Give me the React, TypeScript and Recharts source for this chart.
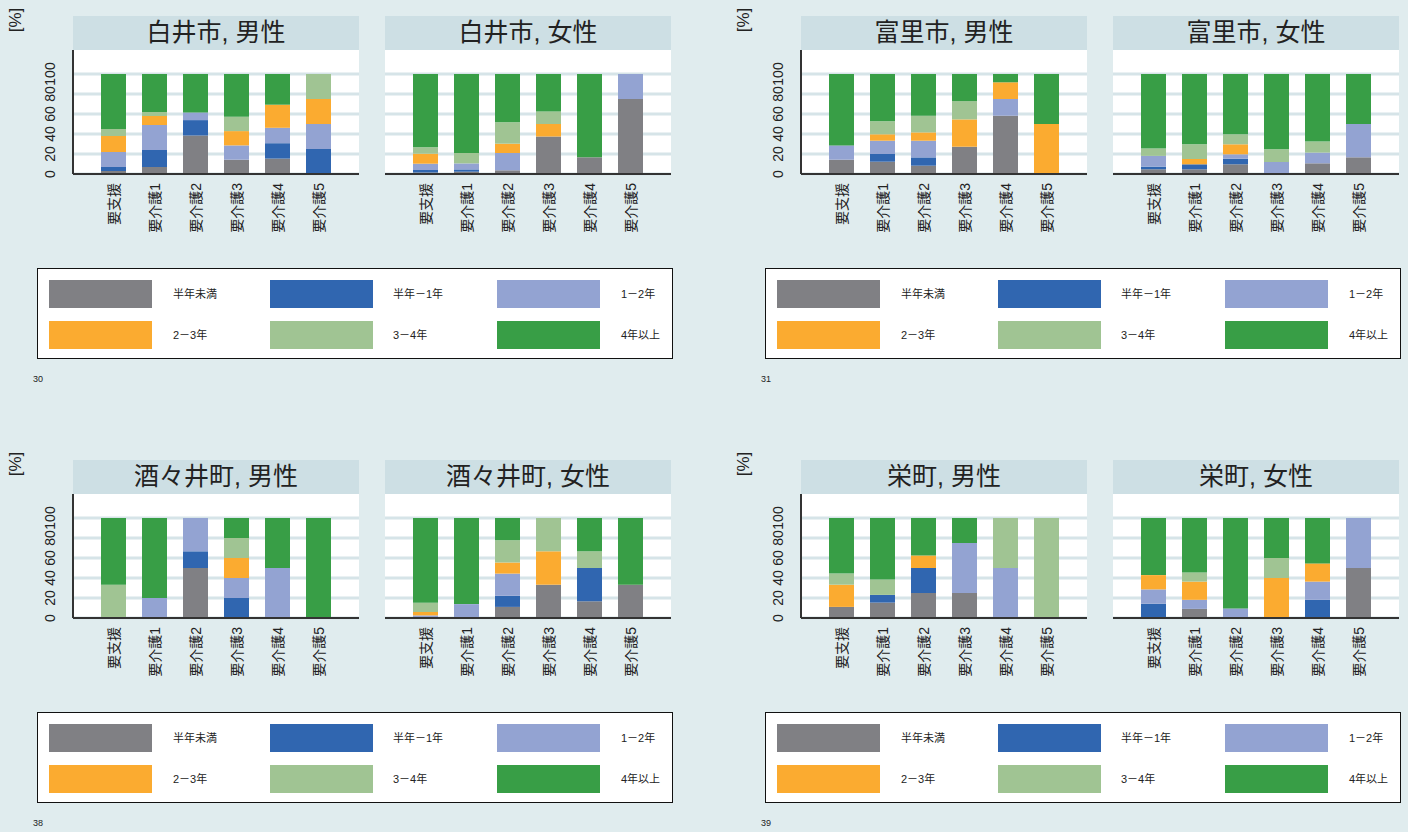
import React from 'react'
import { BarChart, Bar, XAxis, YAxis, CartesianGrid } from 'recharts'

const categories = ['要支援', '要介護1', '要介護2', '要介護3', '要介護4', '要介護5']
const seriesNames = ['半年未満', '半年－1年', '1－2年', '2－3年', '3－4年', '4年以上']
const seriesColors = ['#808084', '#3066b0', '#93a3d2', '#fbab30', '#a0c493', '#389e46']
const yTicks = [0, 20, 40, 60, 80, 100]

// one row per category: [半年未満, 半年-1年, 1-2年, 2-3年, 3-4年, 4年以上]
const shiraiMale = [
  [3, 4, 15, 16, 7, 55],
  [7, 17, 25, 9, 4, 38],
  [38.5, 15.4, 7.7, 0, 0, 38.4],
  [14.3, 0, 14.3, 14.3, 14.3, 42.8],
  [15.4, 15.4, 15.4, 23.1, 0, 30.7],
  [0, 25, 25, 25, 25, 0],
]
const shiraiFemale = [
  [1.5, 2.5, 6.3, 10, 6.4, 73.3],
  [2.3, 2.3, 6, 0, 10.4, 79],
  [3.7, 0, 17.3, 9.3, 21.4, 48.3],
  [37.5, 0, 0, 12.5, 12.5, 37.5],
  [16.7, 0, 0, 0, 0, 83.3],
  [75, 0, 25, 0, 0, 0],
]
const tomisatoMale = [
  [14.3, 0, 14.3, 0, 0, 71.4],
  [12.3, 7.7, 13.3, 6.4, 13, 47.3],
  [8.3, 8.3, 16.7, 8.3, 16.7, 41.7],
  [27.3, 0, 0, 27.3, 18.2, 27.2],
  [58.3, 0, 16.7, 16.7, 0, 8.3],
  [0, 0, 0, 50, 0, 50],
]
const tomisatoFemale = [
  [4.7, 2.7, 10.7, 0, 7.3, 74.6],
  [4.7, 5, 0, 5.3, 14.7, 70.3],
  [9.7, 5.6, 4.4, 10, 10, 60.3],
  [0, 0, 12, 0, 12.7, 75.3],
  [10.7, 0, 10.7, 0, 11, 67.6],
  [16.7, 0, 33.3, 0, 0, 50],
]
const shisuiMale = [
  [0, 0, 0, 0, 33.3, 66.7],
  [0, 0, 20, 0, 0, 80],
  [50, 16.7, 33.3, 0, 0, 0],
  [0, 20, 20, 20, 20, 20],
  [0, 0, 50, 0, 0, 50],
  [0, 0, 0, 0, 0, 100],
]
const shisuiFemale = [
  [0, 0, 2.6, 3.4, 9.2, 84.8],
  [0, 0, 13.9, 0, 0, 86.1],
  [11.1, 11.1, 22.2, 11.1, 22.3, 22.2],
  [33.3, 0, 0, 33.4, 33.3, 0],
  [16.7, 33.3, 0, 0, 16.7, 33.3],
  [33.3, 0, 0, 0, 0, 66.7],
]
const sakaeMale = [
  [11.1, 0, 0, 22.2, 11.1, 55.6],
  [15.4, 7.7, 0, 0, 15.4, 61.5],
  [25, 25, 0, 12.5, 0, 37.5],
  [25, 0, 50, 0, 0, 25],
  [0, 0, 50, 0, 50, 0],
  [0, 0, 0, 0, 100, 0],
]
const sakaeFemale = [
  [0, 14.3, 14.3, 14.3, 0, 57.1],
  [9.1, 0, 9.1, 18.2, 9.1, 54.5],
  [0, 0, 9.6, 0, 0, 90.4],
  [0, 0, 0, 40, 20, 40],
  [0, 18.2, 18.2, 18.2, 0, 45.4],
  [50, 0, 50, 0, 0, 0],
]

const groups = [
  { x: 0, y: 0, page: '30', town: '白井市', male: shiraiMale, female: shiraiFemale },
  { x: 728, y: 0, page: '31', town: '富里市', male: tomisatoMale, female: tomisatoFemale },
  { x: 0, y: 444, page: '38', town: '酒々井町', male: shisuiMale, female: shisuiFemale },
  { x: 728, y: 444, page: '39', town: '栄町', male: sakaeMale, female: sakaeFemale },
]

const FONT = '"Liberation Sans", Arial, "Noto Sans CJK JP", sans-serif'
const PLOT_W = 286
const PLOT_H = 124
const STRIP_H = 34
const X_AXIS_H = 70
const Y_W = 40

function toRows(rows: number[][]) {
  return categories.map((c, i) => {
    const r: Record<string, any> = { name: c }
    rows[i].forEach((v, j) => (r['s' + j] = v))
    return r
  })
}

function XTick(props: any) {
  const { x, payload } = props
  const y = PLOT_H + 9
  return (
    <text
      x={x}
      y={y}
      transform={`rotate(-90 ${x} ${y})`}
      textAnchor="end"
      dominantBaseline="central"
      fontSize={14}
      fontFamily={FONT}
      fill="#222"
    >
      {payload.value}
    </text>
  )
}

function YTick(props: any) {
  const { y, payload } = props
  const x = Y_W - 23
  return (
    <text
      x={x}
      y={y}
      transform={`rotate(-90 ${x} ${y})`}
      textAnchor="middle"
      dominantBaseline="central"
      fontSize={14}
      fontFamily={FONT}
      fill="#222"
    >
      {payload.value}
    </text>
  )
}

function Facet({ title, rows, left, top, withAxis }: { title: string; rows: number[][]; left: number; top: number; withAxis: boolean }) {
  const yw = withAxis ? Y_W : 0
  return (
    <>
      <div
        style={{
          position: 'absolute',
          left,
          top,
          width: PLOT_W,
          height: STRIP_H,
          background: '#cddfe4',
          fontSize: 25,
          lineHeight: STRIP_H - 2 + 'px',
          textAlign: 'center',
          color: '#222',
        }}
      >
        {title}
      </div>
      <div style={{ position: 'absolute', left: left - yw, top: top + STRIP_H }}>
        <BarChart
          width={PLOT_W + yw}
          height={PLOT_H + X_AXIS_H}
          data={toRows(rows)}
          margin={{ top: 0, right: 0, bottom: 0, left: 0 }}
          barSize={25}
        >
          <CartesianGrid
            horizontal={true}
            vertical={false}
            horizontalValues={yTicks}
            stroke="#d6e4e8"
            strokeWidth={3}
            fill="#ffffff"
            fillOpacity={1}
          />
          <XAxis
            dataKey="name"
            interval={0}
            padding={{ left: 20, right: 20 }}
            tickLine={false}
            axisLine={{ stroke: '#333', strokeWidth: 2 }}
            tick={<XTick />}
            height={X_AXIS_H}
          />
          <YAxis
            domain={[0, 124]}
            ticks={yTicks}
            interval={0}
            hide={!withAxis}
            width={Y_W}
            tickLine={false}
            axisLine={{ stroke: '#333', strokeWidth: 2 }}
            tick={<YTick />}
          />
          {seriesNames.map((s, i) => (
            <Bar key={s} dataKey={'s' + i} stackId="a" fill={seriesColors[i]} isAnimationActive={false} />
          ))}
        </BarChart>
      </div>
    </>
  )
}

function LegendBox({ left, top }: { left: number; top: number }) {
  const colX = [11, 232, 459]
  const labelX = [135, 355, 583]
  const rowY = [11, 52]
  return (
    <div
      style={{
        position: 'absolute',
        left,
        top,
        width: 634,
        height: 89,
        border: '1.5px solid #111',
        background: '#fff',
      }}
    >
      {seriesNames.map((s, i) => {
        const c = i % 3
        const r = Math.floor(i / 3)
        return (
          <React.Fragment key={s}>
            <div
              style={{
                position: 'absolute',
                left: colX[c],
                top: rowY[r],
                width: 103,
                height: 28,
                background: seriesColors[i],
              }}
            />
            <div
              style={{
                position: 'absolute',
                left: labelX[c],
                top: rowY[r],
                height: 28,
                lineHeight: '28px',
                fontSize: 11,
                color: '#222',
              }}
            >
              {s}
            </div>
          </React.Fragment>
        )
      })}
    </div>
  )
}

export default function App() {
  return (
    <div
      style={{
        position: 'absolute',
        left: 0,
        top: 0,
        width: 1408,
        height: 832,
        background: '#e0ecee',
        overflow: 'hidden',
        fontFamily: FONT,
      }}
    >
      {groups.map((g) => (
        <React.Fragment key={g.page}>
          <div
            style={{
              position: 'absolute',
              left: g.x + 16,
              top: g.y + 20,
              transform: 'translate(-50%, -50%) rotate(-90deg)',
              fontSize: 17,
              color: '#222',
              whiteSpace: 'nowrap',
            }}
          >
            [%]
          </div>
          <Facet title={g.town + ', 男性'} rows={g.male} left={g.x + 73} top={g.y + 16} withAxis={true} />
          <Facet title={g.town + ', 女性'} rows={g.female} left={g.x + 385} top={g.y + 16} withAxis={false} />
          <LegendBox left={g.x + 37} top={g.y + 268} />
          <div
            style={{
              position: 'absolute',
              left: g.x + 33,
              top: g.y + 374,
              fontSize: 9,
              color: '#222',
            }}
          >
            {g.page}
          </div>
        </React.Fragment>
      ))}
    </div>
  )
}
